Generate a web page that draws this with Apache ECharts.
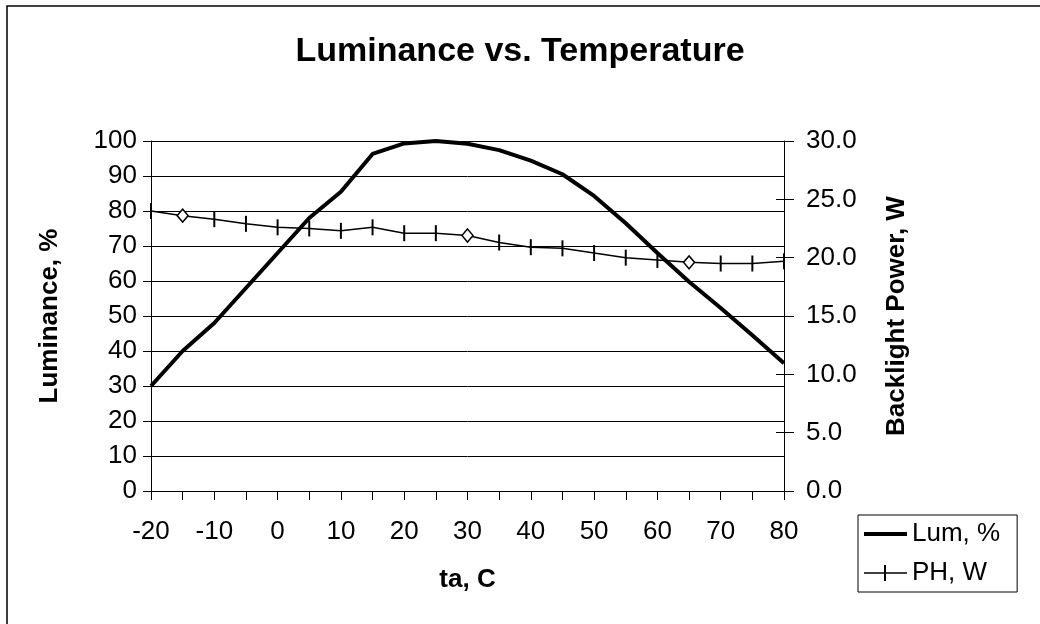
<!DOCTYPE html>
<html>
<head>
<meta charset="utf-8">
<script src="https://cdn.jsdelivr.net/npm/echarts@6/dist/echarts.min.js"></script>
<style>html,body{margin:0;padding:0;background:#fff}#c{width:1040px;height:624px}</style>
</head>
<body>
<div id="c"></div>
<script>
const temps = [-20,-15,-10,-5,0,5,10,15,20,25,30,35,40,45,50,55,60,65,70,75,80];
const lum = [30,40,48,58,68,78,85.5,96.3,99.3,100,99.2,97.4,94.4,90.5,84.3,76.5,68,59.8,52.3,44.5,36.5];
const ph = [24.0,23.6,23.3,22.9,22.6,22.5,22.3,22.6,22.1,22.1,21.9,21.3,20.9,20.8,20.4,20.0,19.8,19.6,19.5,19.5,19.7];
const diamondTemps = [-15,30,65];
const xTicks = [-20,-10,0,10,20,30,40,50,60,70,80];

const FONT = 'Liberation Sans, Arial, sans-serif';
const chart = echarts.init(document.getElementById('c'));

const lumData = temps.map((t,i)=>[t,lum[i]]);
const phData = temps.map((t,i)=>{
  if (diamondTemps.includes(t)) {
    return {value:[t,ph[i]], symbol:'diamond', symbolSize:[11,13],
      itemStyle:{color:'#fff', borderColor:'#000', borderWidth:1.5}};
  }
  return [t,ph[i]];
});

chart.setOption({
  animation:false,
  textStyle:{fontFamily:FONT, color:'#000'},
  graphic:[{type:'rect', shape:{x:7,y:6,width:1100,height:700}, style:{fill:'none',stroke:'#000',lineWidth:1.5}, silent:true}],
  title:{text:'Luminance vs. Temperature', left:'center', top:30,
    textStyle:{fontFamily:FONT, fontSize:34, fontWeight:'bold', color:'#000'}},
  legend:{orient:'vertical', left:858, top:515,
    padding:[6,17,6,6], itemGap:13, itemWidth:43, itemHeight:16,
    borderColor:'#000', borderWidth:1, backgroundColor:'#fff',
    symbolKeepAspect:true,
    textStyle:{fontFamily:FONT, fontSize:26, color:'#000', padding:[0,0,0,0]},
    data:[
      {name:'Lum, %', icon:'path://M0,6H43V10H0Z', itemStyle:{color:'#000'}},
      {name:'PH, W', icon:'path://M0,7.3H20V0H22V7.3H43V8.7H22V16H20V8.7H0Z', itemStyle:{color:'#000'}}
    ]},
  grid:{left:151, right:256, top:141, bottom:133},
  xAxis:{type:'value', min:-20, max:80, interval:5,
    name:'ta, C', nameLocation:'middle', nameGap:76,
    nameTextStyle:{fontFamily:FONT, fontSize:26, fontWeight:'bold', color:'#000'},
    axisLine:{show:true, onZero:false, lineStyle:{color:'#000', width:1}},
    axisTick:{show:true, length:9, lineStyle:{color:'#000'}},
    axisLabel:{fontFamily:FONT, fontSize:26, color:'#000', margin:28,
      formatter:v=> xTicks.includes(v) ? String(v) : ''},
    splitLine:{show:false}},
  yAxis:[
    {type:'value', min:0, max:100, interval:10, position:'left',
     name:'Luminance, %', nameLocation:'middle', nameGap:88, nameRotate:90,
     nameTextStyle:{fontFamily:FONT, fontSize:26, fontWeight:'bold', color:'#000'},
     axisLine:{show:true, onZero:false, lineStyle:{color:'#000', width:1}},
     axisTick:{show:true, length:8, lineStyle:{color:'#000'}},
     axisLabel:{fontFamily:FONT, fontSize:26, color:'#000', margin:14},
     splitLine:{show:true, lineStyle:{color:'#000', width:1}}},
    {type:'value', min:0, max:30, interval:5, position:'right',
     name:'Backlight Power, W', nameLocation:'middle', nameGap:100, nameRotate:90,
     nameTextStyle:{fontFamily:FONT, fontSize:26, fontWeight:'bold', color:'#000'},
     axisLine:{show:true, onZero:false, lineStyle:{color:'#000', width:1}},
     axisTick:{show:true, length:10, lineStyle:{color:'#000'}},
     axisLabel:{fontFamily:FONT, fontSize:26, color:'#000', margin:22, formatter:v=>v.toFixed(1)},
     splitLine:{show:false}},
    {type:'value', min:0, max:30, interval:5, position:'right',
     axisLine:{show:false, onZero:false},
     axisTick:{show:true, inside:true, length:8, lineStyle:{color:'#000'}},
     axisLabel:{show:false}, splitLine:{show:false}}
  ],
  series:[
    {name:'Lum, %', type:'line', yAxisIndex:0, data:lumData, showSymbol:false, symbol:'none',
     lineStyle:{color:'#000', width:4}, itemStyle:{color:'#000'}, z:3},
    {name:'PH, W', type:'line', yAxisIndex:1, data:phData,
     symbol:'rect', symbolSize:[2,16], showSymbol:true,
     lineStyle:{color:'#000', width:1.5}, itemStyle:{color:'#000'}, z:4}
  ]
});
</script>
</body>
</html>
